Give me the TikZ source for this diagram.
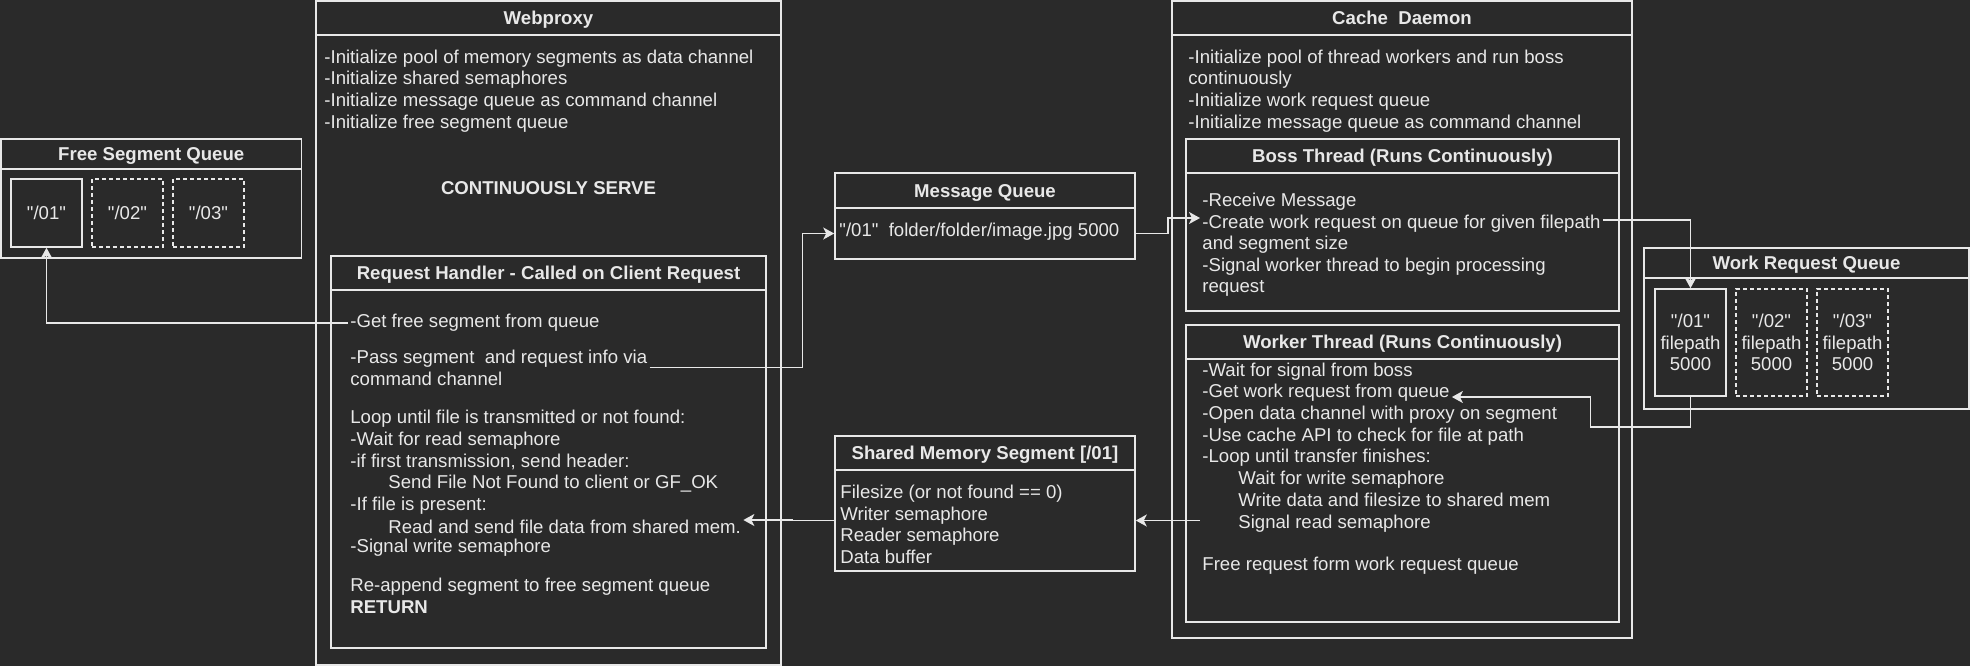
\documentclass[tikz,border=0pt]{standalone}
\usepackage{fontspec}
\setmainfont{Liberation Sans}[Ligatures=TeXOff]
\usetikzlibrary{positioning}
\usetikzlibrary{fit}
\usetikzlibrary{arrows.meta}
\definecolor{bg}{HTML}{2A2A2A}
\definecolor{fg}{HTML}{E8E8E8}
\tikzset{lane/.style = {draw=fg, line width=0.8pt, inner sep=0}}
\tikzset{head/.style = {text=fg, text height=7.5pt, text depth=1pt,
                        font=\fontsize{9.3}{10.85}\selectfont\bfseries}}
\tikzset{txt/.style = {text=fg, anchor=west, align=left, inner sep=1pt,
                       font=\fontsize{9.3}{10.85}\selectfont}}
\tikzset{slot/.style = {draw=fg, line width=0.8pt, text=fg, align=center,
                        minimum width=35.5pt, inner sep=0,
                        font=\fontsize{9.3}{10.85}\selectfont}}
\tikzset{spare/.style = {slot, dash pattern=on 2pt off 1.5pt}}
\tikzset{link/.style = {draw=fg, line width=0.8pt,
                        -{Stealth[length=5.5pt, width=6pt, inset=1.5pt]}}}

\begin{document}
\begin{tikzpicture}[x=0.5pt, y=-0.5pt]
    \fill[bg] (0,0) rectangle (1970,666);
    \useasboundingbox (0,0) rectangle (1970,666);

    % free segment queue
    \node[lane, fit={(1,139) (301.5,169)}] (fsqT) {};
    \node[lane, fit={(1,169) (301.5,258)}] (fsq) {};
    \node[head] at (fsqT) {Free Segment Queue};
    \node[slot, minimum height=34pt] (fsq1) at (46.5,213) {"/01"};
    \node[spare, minimum height=34pt] (fsq2) at (127.5,213) {"/02"};
    \node[spare, minimum height=34pt] (fsq3) at (208.5,213) {"/03"};

    % webproxy
    \node[lane, fit={(316,1) (781,35)}] (wpT) {};
    \node[lane, fit={(316,35) (781,665)}] (wp) {};
    \node[head] at (wpT) {Webproxy};
    \node[txt] (wptxt) at (322,90.8) {-Initialize pool of memory segments as data channel\\
        -Initialize shared semaphores\\-Initialize message queue as command channel\\
        -Initialize free segment queue};
    \node[head] (serve) at (548.5,187.7) {CONTINUOUSLY SERVE};

    \node[lane, fit={(331,256) (766,290)}] (rhT) {};
    \node[lane, fit={(331,290) (766,648)}] (rh) {};
    \node[head] at (rhT) {Request Handler - Called on Client Request};
    \node[txt] (getfree) at (348,322.7) {-Get free segment from queue};
    \node[txt] (pass) at (348,367.5) {-Pass segment\ \ and request info via\\command channel};
    \node[txt] (loop) at (348,462.2) {Loop until file is transmitted or not found:\\
        -Wait for read semaphore\\-if first transmission, send header:\\
        \hspace*{19pt}Send File Not Found to client or GF\_OK\\-If file is present:};
    \node[txt] (read) at (348,527) {\hspace*{19pt}Read and send file data from shared mem.};
    \node[txt] (signal) at (348,548) {-Signal write semaphore};
    \node[txt] (ret) at (348,596) {Re-append segment to free segment queue\\\textbf{RETURN}};

    % message queue and shared memory
    \node[lane, fit={(835,173) (1135,208)}] (mqT) {};
    \node[lane, fit={(835,208) (1135,259)}] (mq) {};
    \node[head] at (mqT) {Message Queue};
    \node[txt] (mqtxt) at (837,231.7) {"/01"\ \ folder/folder/image.jpg 5000};

    \node[lane, fit={(835,436) (1135,470)}] (shmT) {};
    \node[lane, fit={(835,470) (1135,571)}] (shm) {};
    \node[head] at (shmT) {Shared Memory Segment [/01]};
    \node[txt] (shmtxt) at (838,524.2) {Filesize (or not found == 0)\\Writer semaphore\\
        Reader semaphore\\Data buffer};

    % cache daemon
    \node[lane, fit={(1172,1) (1632,35)}] (cdT) {};
    \node[lane, fit={(1172,35) (1632,638)}] (cd) {};
    \node[head] at (cdT) {Cache\ \ Daemon};
    \node[txt] (cdtxt) at (1186,90.8) {-Initialize pool of thread workers and run boss\\
        continuously\\-Initialize work request queue\\
        -Initialize message queue as command channel};

    \node[lane, fit={(1186,139) (1619,173)}] (bossT) {};
    \node[lane, fit={(1186,173) (1619,311)}] (boss) {};
    \node[head] at (bossT) {Boss Thread (Runs Continuously)};
    \node[txt] (recv) at (1200,202) {-Receive Message};
    \node[txt] (create) at (1200,224) {-Create work request on queue for given filepath};
    \node[txt] (bossrest) at (1200,266.3) {and segment size\\
        -Signal worker thread to begin processing\\request};

    \node[lane, fit={(1186,325) (1619,359)}] (wkT) {};
    \node[lane, fit={(1186,359) (1619,622)}] (wk) {};
    \node[head] at (wkT) {Worker Thread (Runs Continuously)};
    \node[txt] (wait) at (1200,372) {-Wait for signal from boss};
    \node[txt] (getwork) at (1200,393) {-Get work request from queue};
    \node[txt] (wkrest) at (1200,469) {-Open data channel with proxy on segment\\
        -Use cache API to check for file at path\\-Loop until transfer finishes:\\
        \hspace*{18pt}Wait for write semaphore\\
        \hspace*{18pt}Write data and filesize to shared mem\\
        \hspace*{18pt}Signal read semaphore};
    \node[txt] (wkfree) at (1200,566) {Free request form work request queue};

    % work request queue
    \node[lane, fit={(1644,248) (1969,278)}] (wrqT) {};
    \node[lane, fit={(1644,278) (1969,409)}] (wrq) {};
    \node[head] at (wrqT) {Work Request Queue};
    \node[slot, minimum height=53.5pt] (wrq1) at (1690.5,342.5) {"/01"\\filepath\\5000};
    \node[spare, minimum height=53.5pt] (wrq2) at (1771.5,342.5) {"/02"\\filepath\\5000};
    \node[spare, minimum height=53.5pt] (wrq3) at (1852.5,342.5) {"/03"\\filepath\\5000};

    % connectors
    \draw[link] (getfree.west) -| (fsq1.south);
    \draw[link] (pass.east) -- ++(153,0) |- (mq.west);
    \draw[link] (mq.east) -- ++(32,0) |- ([yshift=3pt]create.west);
    \draw[link] ([yshift=2pt]create.east) -| (wrq1.north);
    \draw[link] (wrq1.south) -- ++(0,30) -- ++(-100,0) |- ([yshift=-2pt]getwork.east);
    \draw[link] (wkrest.west |- shm.east) -- (shm.east);
    \draw[link] (shm.west) -- ++(-42,0) |- ([yshift=3.5pt]read.east);
\end{tikzpicture}
\end{document}
